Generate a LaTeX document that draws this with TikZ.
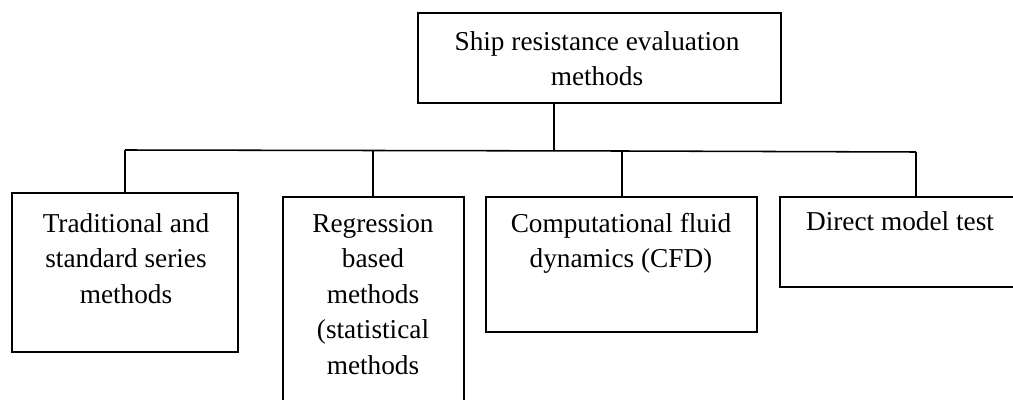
\documentclass[tikz,border=0pt]{standalone}
\usepackage{fontspec}
\setmainfont{Liberation Serif}
\begin{document}
\begin{tikzpicture}[x=0.025cm,y=-0.025cm,
  box/.style={draw=black, line width=1.2pt, rectangle, outer sep=0pt, inner sep=0pt, anchor=north west},
  txt/.style={anchor=north, inner sep=0pt, align=center, font=\fontsize{19.4pt}{25.3pt}\selectfont},
  conn/.style={draw=black, line width=1.1pt}]
\useasboundingbox (0,0) rectangle (1013,400);
\clip (0,0) rectangle (1013,400);
% boxes
\node[box, minimum width=9.075cm, minimum height=2.25cm] (top) at (418,13) {};
\node[box, minimum width=5.65cm, minimum height=3.975cm] (b1) at (12,193) {};
\node[box, minimum width=4.525cm, minimum height=5.4cm] (b2) at (283,197) {};
\node[box, minimum width=6.775cm, minimum height=3.375cm] (b3) at (486,197) {};
\node[box, minimum width=6.25cm, minimum height=2.25cm] (b4) at (780,197) {};
% texts
\node[txt] (t0) at (597,25) {\strut Ship resistance evaluation\\methods};
\node[txt] (t1) at (126,207) {\strut Traditional and\\standard series\\methods};
\node[txt] (t2) at (373,207) {\strut Regression\\based\\methods\\(statistical\\methods};
\node[txt] (t3) at (621,207) {\strut Computational fluid\\dynamics (CFD)};
\node[txt] (t4) at (900,205) {\strut Direct model test};
% bus
\coordinate (j0) at (554,150.3);
\coordinate (k1) at (125,150);
\coordinate (k2) at (373,150.6);
\coordinate (k3) at (622,151);
\coordinate (k4) at (916,152);
\draw[conn] (top.south -| j0) -- (j0);
\draw[conn] (k1) -- (k3) -- (k4);
\draw[conn] (k1) -- (b1.north -| k1);
\draw[conn] (k2) -- (b2.north -| k2);
\draw[conn] (k3) -- (b3.north -| k3);
\draw[conn] (k4) -- (b4.north -| k4);
\end{tikzpicture}
\end{document}
